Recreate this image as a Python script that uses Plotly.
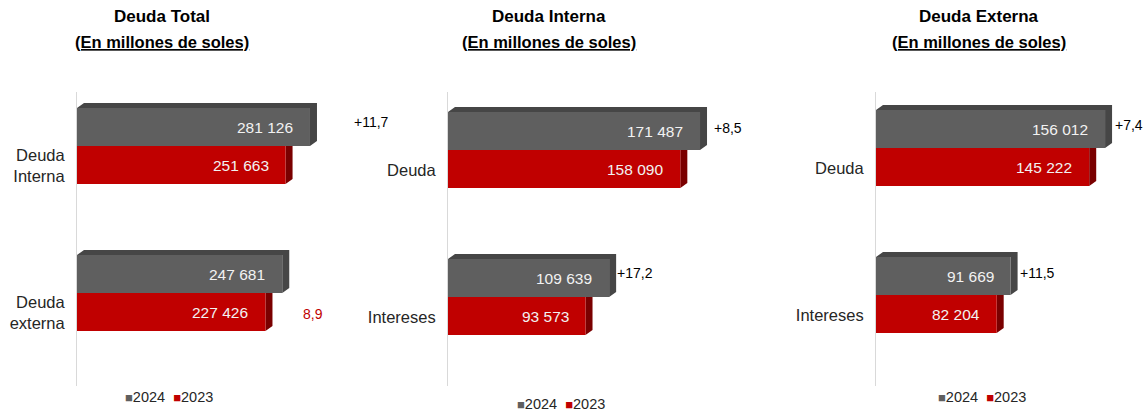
import plotly.graph_objects as go

# ---------------- data ----------------
years = ["2024", "2023"]
subtitle = "(En millones de soles)"

total_title = "Deuda Total"
total_categories = ["Deuda Interna", "Deuda externa"]
total_ticklabels = ["Deuda<br>Interna", "Deuda<br>externa"]
total_2024 = [281126, 247681]
total_2023 = [251663, 227426]
total_changes = ["+11,7", "8,9"]
total_change_series = ["2024", "2023"]

interna_title = "Deuda Interna"
interna_categories = ["Deuda", "Intereses"]
interna_ticklabels = ["Deuda", "Intereses"]
interna_2024 = [171487, 109639]
interna_2023 = [158090, 93573]
interna_changes = ["+8,5", "+17,2"]
interna_change_series = ["2024", "2024"]

externa_title = "Deuda Externa"
externa_categories = ["Deuda", "Intereses"]
externa_ticklabels = ["Deuda", "Intereses"]
externa_2024 = [156012, 91669]
externa_2023 = [145222, 82204]
externa_changes = ["+7,4", "+11,5"]
externa_change_series = ["2024", "2024"]

# ---------------- style ----------------
W, H = 1146, 412
FONT = "Liberation Sans, Arial, sans-serif"
C_GRAY, C_GRAY_D = "#5f5f5f", "#464646"
C_RED, C_RED_D = "#c00000", "#7a0000"
SERIES_COLORS = {"2024": C_GRAY, "2023": C_RED}
CAT_PX = 147          # pixels between categories
BAR_PX = 38           # bar thickness
DEPTH_X, DEPTH_Y = 7, 5
Y_TOP, Y_BOT = 92, 386

panels = [
    dict(title=total_title, cats=total_categories, ticks=total_ticklabels,
         v24=total_2024, v23=total_2023, chg=total_changes, chg_s=total_change_series,
         x0=77, x1=377, xmax=362000, c0=166, title_x=162,
         chg_shift=[42, 36], chg_color=["#000000", "#c00000"], chg_dy=[5, -2],
         leg_x=169, leg_y=397),
    dict(title=interna_title, cats=interna_categories, ticks=interna_ticklabels,
         v24=interna_2024, v23=interna_2023, chg=interna_changes, chg_s=interna_change_series,
         x0=448, x1=760, xmax=212300, c0=170, title_x=549,
         chg_shift=[12, 6], chg_color=["#000000", "#000000"], chg_dy=[3, 5],
         leg_x=561, leg_y=404),
    dict(title=externa_title, cats=externa_categories, ticks=externa_ticklabels,
         v24=externa_2024, v23=externa_2023, chg=externa_changes, chg_s=externa_change_series,
         x0=876, x1=1146, xmax=183900, c0=168, title_x=979,
         chg_shift=[8, 7], chg_color=["#000000", "#000000"], chg_dy=[4, 3],
         leg_x=982, leg_y=397),
]

fig = go.Figure()
annotations = []
shapes = []
layout = dict(
    width=W, height=H, margin=dict(l=0, r=0, t=0, b=0),
    paper_bgcolor="white", plot_bgcolor="white", barmode="overlay",
    font=dict(family=FONT, color="#262626"),
    showlegend=False,
)

w_u = BAR_PX / CAT_PX
off24 = -(BAR_PX + 20) / CAT_PX
off23 = -20 / CAT_PX
dy_u = DEPTH_Y / CAT_PX


def fmt(v):
    return f"{v:,}".replace(",", " ")


legend_text = "\u00a0\u00a0".join(
    f'<span style="font-size:13px;color:{SERIES_COLORS[y]}">■</span>{y}' for y in years
)

for i, p in enumerate(panels):
    s = "" if i == 0 else str(i + 1)
    xa, ya = "x" + s, "y" + s
    dx_u = DEPTH_X * p["xmax"] / (p["x1"] - p["x0"])
    series = [("2024", p["v24"], off24, C_GRAY, C_GRAY_D),
              ("2023", p["v23"], off23, C_RED, C_RED_D)]
    for name, vals, off, col, dcol in series:
        # front faces
        fig.add_trace(go.Bar(y=p["cats"], x=vals, orientation="h", name=name,
                             offset=off, width=w_u,
                             marker=dict(color=col, line=dict(width=0)),
                             xaxis=xa, yaxis=ya))
        for k, v in enumerate(vals):
            top, bot = k + off, k + off + w_u
            # 3D depth: top face + right side, derived from the bar value
            path = (f"M 0,{top} L {dx_u},{top - dy_u} L {v + dx_u},{top - dy_u} "
                    f"L {v + dx_u},{bot - dy_u} L {v},{bot} L {v},{top} Z")
            shapes.append(dict(type="path", path=path, xref=xa, yref=ya,
                               fillcolor=dcol, line=dict(width=0), layer="below"))
            annotations.append(dict(x=v, y=(top + bot) / 2, xref=xa, yref=ya,
                                    text=fmt(v), showarrow=False, xanchor="right",
                                    yanchor="middle", xshift=-15,
                                    font=dict(size=15.5, color="#f2f2f2")))
    # % change labels
    for k, (txt, ser) in enumerate(zip(p["chg"], p["chg_s"])):
        vals, off = (p["v24"], off24) if ser == "2024" else (p["v23"], off23)
        annotations.append(dict(x=vals[k], y=k + off + w_u / 2, xref=xa, yref=ya,
                                text=txt, showarrow=False, xanchor="left", yanchor="middle",
                                xshift=p["chg_shift"][k], yshift=p["chg_dy"][k],
                                font=dict(size=14, color=p["chg_color"][k])))
    # titles
    annotations.append(dict(x=p["title_x"] / W, y=1 - 17 / H, xref="paper", yref="paper",
                            text="<b>" + p["title"] + "</b>", showarrow=False,
                            xanchor="center", yanchor="middle",
                            font=dict(size=17, color="#000000")))
    annotations.append(dict(x=p["title_x"] / W, y=1 - 42 / H, xref="paper", yref="paper",
                            text="<b><u>" + subtitle + "</u></b>", showarrow=False,
                            xanchor="center", yanchor="middle",
                            font=dict(size=16.5, color="#000000")))
    # legend
    annotations.append(dict(x=p["leg_x"] / W, y=1 - p["leg_y"] / H, xref="paper", yref="paper",
                            text=legend_text, showarrow=False, xanchor="center",
                            yanchor="middle", font=dict(size=14.5, color="#262626")))
    # axes
    layout["xaxis" + s] = dict(domain=[p["x0"] / W, p["x1"] / W], range=[0, p["xmax"]],
                               anchor=ya, visible=False, fixedrange=True)
    layout["yaxis" + s] = dict(domain=[1 - Y_BOT / H, 1 - Y_TOP / H], anchor=xa,
                               type="category",
                               range=[(Y_BOT - p["c0"]) / CAT_PX, (Y_TOP - p["c0"]) / CAT_PX],
                               tickvals=p["cats"], ticktext=p["ticks"], ticks="",
                               ticklabelstandoff=8, showline=True, linecolor="#d9d9d9",
                               linewidth=1, showgrid=False, zeroline=False,
                               tickfont=dict(size=16.5, color="#262626"), fixedrange=True)

layout["annotations"] = annotations
layout["shapes"] = shapes
fig.update_layout(**layout)
fig.write_html(
    "out.html",
    config={"displayModeBar": False},
    post_script="document.body.style.margin='0px';document.body.style.overflow='hidden';",
)
